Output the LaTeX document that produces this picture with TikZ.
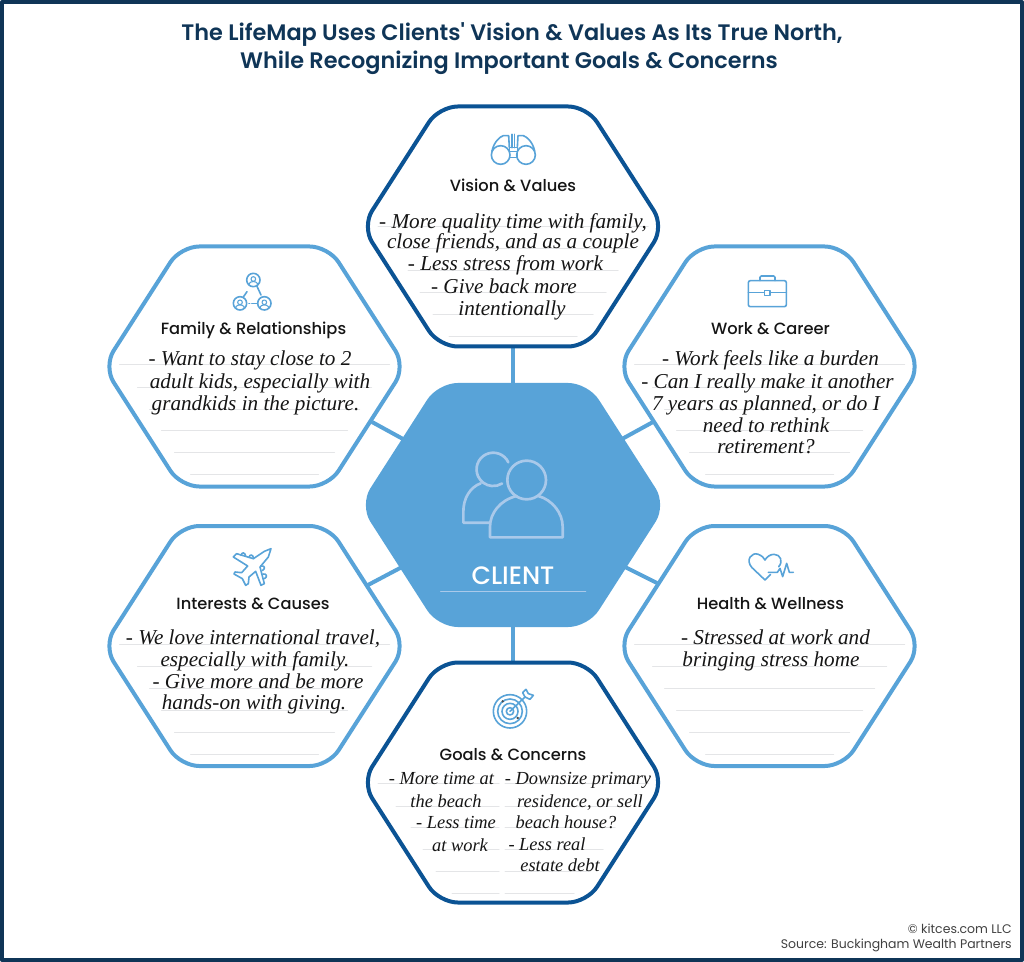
\documentclass[tikz,border=0pt]{standalone}
\usepackage{fontspec}
\setmainfont{Poppins}
\newfontfamily\headfont{Poppins SemiBold}
\newfontfamily\midfont{Poppins Medium}
\newfontfamily\handfont{Liberation Serif}[ItalicFont=* Italic]
\definecolor{framenavy}{HTML}{0F3557}
\definecolor{skyblue}{HTML}{58A3D8}
\definecolor{deepblue}{HTML}{0B5394}
\definecolor{rulegray}{HTML}{E4E5E7}
\definecolor{paleblue}{HTML}{A9C9EA}
\definecolor{inkblack}{HTML}{151515}
\begin{document}
\begin{tikzpicture}[x=0.75pt, y=-0.75pt, line cap=round, line join=round,
    hexa/.pic={\draw[pic actions, rounded corners=14pt, line width=3pt]
      (-151,0) -- (-74,-120) -- (74,-120) -- (151,0) -- (74,120) -- (-74,120) -- cycle;},
    rules/.pic={\foreach \dy/\hw in {0.5/135,22.5/117,44.5/105,66/93,88/80,110/64}
      \draw[rule] (-\hw,\dy) -- (\hw,\dy);},
    rule/.style={rulegray, line width=0.75pt},
    conn/.style={skyblue, line width=3pt, line cap=butt},
    ico/.style={skyblue, line width=1.2pt},
    peep/.style={paleblue, line width=2pt},
    hand/.style={inner sep=0pt, anchor=base, yshift=-1pt, text=inkblack, font=\handfont\itshape\fontsize{15.9}{18}\selectfont},
    handsm/.style={hand, font=\handfont\itshape\fontsize{13.8}{16}\selectfont},
    head/.style={inner sep=0pt, anchor=base, yshift=-0.75pt, text=inkblack, font=\midfont\fontsize{12.2}{15}\selectfont},
    ttl/.style={inner sep=0pt, anchor=base, text=framenavy, font=\headfont\fontsize{16.8}{20}\selectfont},
    foot/.style={inner sep=0pt, anchor=base east, text=black!75, font=\fontsize{9.35}{11}\selectfont}]
  \useasboundingbox (0,0) rectangle (1024,962);
  \draw[framenavy, line width=3pt, line cap=butt] (2,2) rectangle (1022,960);
  \node[ttl] (title1) at (512,41) {The LifeMap Uses Clients' Vision \& Values As Its True North,};
  \node[ttl] (title2) at (509,69) {While Recognizing Important Goals \& Concerns};
  % centres of the hexagons
  \coordinate (client) at (513,505);
  \coordinate (vision) at (513,226.5);
  \coordinate (goals) at (513,782.5);
  \coordinate (family) at (254.5,366.5);
  \coordinate (work) at (769.5,366.5);
  \coordinate (interests) at (254.5,646);
  \coordinate (health) at (769.5,646);
  % spokes
  \coordinate (famEnd) at (372,422);
  \coordinate (famIn) at (403,439);
  \coordinate (workEnd) at (653,422);
  \coordinate (workIn) at (622,439);
  \coordinate (intEnd) at (368,585);
  \coordinate (intIn) at (402,567);
  \coordinate (hlthEnd) at (657,583);
  \coordinate (hlthIn) at (625,567);
  \draw[conn] (client) -- (vision);
  \draw[conn] (client) -- (goals);
  \draw[conn] (famEnd) -- (famIn);
  \draw[conn] (workEnd) -- (workIn);
  \draw[conn] (intEnd) -- (intIn);
  \draw[conn] (hlthEnd) -- (hlthIn);
  \pic[draw=deepblue, fill=white] at (vision) {hexa};
  \pic[draw=deepblue, fill=white] at (goals) {hexa};
  \pic[draw=skyblue, fill=white] at (family) {hexa};
  \pic[draw=skyblue, fill=white] at (work) {hexa};
  \pic[draw=skyblue, fill=white] at (interests) {hexa};
  \pic[draw=skyblue, fill=white] at (health) {hexa};
  \pic[draw=skyblue, fill=skyblue] at (client) {hexa};
  \pic at (vision) {rules};
  \pic at ([yshift=1.5pt]family) {rules};
  \pic at ([yshift=1.5pt]work) {rules};
  \pic at ([yshift=1.5pt]interests) {rules};
  \pic at ([yshift=1.5pt]health) {rules};
  % goals has two columns of rules
  \foreach \dy/\hw in {0.5/135,23.5/117,44.5/102,66.5/90,88.5/77,110.5/61} {
    \draw[rule] ([xshift=-\hw*0.75pt,yshift=-\dy*0.75pt]goals) -- ([xshift=-10.5pt,yshift=-\dy*0.75pt]goals);
    \draw[rule] ([xshift=-6pt,yshift=-\dy*0.75pt]goals) -- ([xshift=\hw*0.75pt,yshift=-\dy*0.75pt]goals);
  }
  % client
  \begin{scope}[shift={(350,370)}, x=0.25pt, y=-0.25pt]
    \draw[peep] (475,277) arc (-25:-302:50);
    \draw[peep] (392,340) .. controls (360,352) and (340,385) .. (340,425) -- (340,458) -- (420,458);
    \draw[peep] (530,330) circle (58);
    \draw[peep] (500,378) .. controls (450,390) and (420,430) .. (420,470) -- (420,502) -- (638,502) -- (638,470) .. controls (638,430) and (608,390) .. (565,378);
    \draw[paleblue, line width=0.9pt] (272,665) -- (707,665);
  \end{scope}
  \node[inner sep=0pt, anchor=base, text=white, font=\midfont\fontsize{18.9}{22}\selectfont] (clientlab) at (513,584.5) {CLIENT};
  % binoculars
  \begin{scope}[shift={(480,125)}, x=0.25pt, y=-0.25pt]
    \draw[ico] (62,90) circle (28);
    \draw[ico] (138,90) circle (28);
    \draw[ico] (36,78) .. controls (42,50) and (60,35) .. (70,32) -- (86,32) -- (88,68);
    \draw[ico] (164,78) .. controls (158,50) and (140,35) .. (130,32) -- (114,32) -- (112,68);
    \draw[ico] (88,68) -- (88,98) -- (112,98) -- (112,68) -- cycle;
    \draw[ico] (88,80) -- (112,80);
    \draw[ico] (96,28) -- (96,68);
    \draw[ico] (104,28) -- (104,68);
  \end{scope}
  % people in a triangle
  \begin{scope}[shift={(225,265)}, x=0.25pt, y=-0.25pt]
    \foreach \cx/\cy in {85/45,45/115,118/115} {
      \draw[ico] (\cx,\cy) circle (20);
      \draw[ico, line width=0.8pt] (\cx,\cy-3) circle (7);
      \draw[ico, line width=0.8pt] (\cx-12,\cy+13) -- (\cx-12,\cy+10) .. controls (\cx-8,\cy+3) and (\cx+8,\cy+3) .. (\cx+12,\cy+10) -- (\cx+12,\cy+13);
    }
    \draw[ico] (66,80) -- (55,96);
    \draw[ico] (96,64) -- (108,90);
    \draw[ico] (72,115) -- (74,115);
    \draw[ico] (80,115) -- (96,115);
  \end{scope}
  % briefcase
  \begin{scope}[shift={(615,240)}, x=0.25pt, y=-0.25pt]
    \draw[ico, rounded corners=1.5pt] (400,122) rectangle (514,200);
    \draw[ico, rounded corners=1pt] (435,122) -- (435,108) -- (480,108) -- (480,122);
    \draw[ico] (400,158) -- (448,158);
    \draw[ico] (465,158) -- (514,158);
    \draw[ico] (448,152) rectangle (465,167);
  \end{scope}
  % plane
  \begin{scope}[shift={(225,542)}, x=0.25pt, y=-0.25pt]
    \draw[ico] (138,20) -- (118,28) -- (85,50) -- (35,35) -- (25,45) -- (68,72) -- (50,92) -- (30,90) -- (27,96) -- (52,110) -- (62,130) -- (70,125) -- (72,105) -- (92,88) -- (108,130) -- (118,125) -- (105,75) -- (130,45) -- cycle;
    \draw[ico] (48,40) .. controls (50,30) and (60,30) .. (62,42);
    \draw[ico] (72,46) .. controls (74,36) and (84,36) .. (86,50);
    \draw[ico] (108,72) .. controls (120,70) and (122,80) .. (112,86);
    \draw[ico] (114,96) .. controls (126,94) and (128,106) .. (118,110);
  \end{scope}
  % heart with pulse
  \begin{scope}[shift={(740,545)}, x=0.25pt, y=-0.25pt]
    \draw[ico] (92,88) -- (75,105) -- (36,68) .. controls (15,45) and (35,20) .. (55,28) .. controls (65,32) and (72,38) .. (75,45) .. controls (80,36) and (90,28) .. (102,28) .. controls (122,28) and (130,50) .. (116,65);
    \draw[ico] (85,82) -- (112,82) -- (120,70) -- (128,95) -- (140,55) -- (148,82) -- (160,82);
  \end{scope}
  % target
  \begin{scope}[shift={(480,682)}, x=0.25pt, y=-0.25pt]
    \draw[ico] (90,88) circle (50);
    \draw[ico] (90,88) circle (37);
    \draw[ico] (90,88) circle (24);
    \draw[ico] (90,88) circle (11);
    \draw[ico] (90,88) -- (135,45);
    \draw[ico] (135,45) -- (128,32) -- (138,22) -- (145,35) -- (160,40) -- (150,52) -- (135,45);
    \fill[black!70] (68,58) circle (4);
    \fill[black!70] (113,108) circle (4);
  \end{scope}
  % headings
  \node[head] (visionlab) at (513,191) {Vision \& Values};
  \node[head] (familylab) at (253.5,334) {Family \& Relationships};
  \node[head] (worklab) at (770.5,334) {Work \& Career};
  \node[head] (intlab) at (253,608) {Interests \& Causes};
  \node[head] (hlthlab) at (770.5,608) {Health \& Wellness};
  \node[head] (goalslab) at (513,759) {Goals \& Concerns};
  % vision
  \node[hand] (v1) at (513,227) {- More quality time with family,};
  \node[hand] (v2) at (513,247) {close friends, and as a couple};
  \node[hand] (v3) at (505.5,269) {- Less stress from work};
  \node[hand] (v4) at (504,292) {- Give back more};
  \node[hand] (v5) at (512,314) {intentionally};
  % family
  \node[hand] (f1) at (250,364) {- Want to stay close to 2};
  \node[hand] (f2) at (260,387) {adult kids, especially with};
  \node[hand] (f3) at (255.5,409) {grandkids in the picture.};
  % work
  \node[hand] (w1) at (770.5,364) {- Work feels like a burden};
  \node[hand] (w2) at (767.5,387) {- Can I really make it another};
  \node[hand] (w3) at (766,409) {7 years as planned, or do I};
  \node[hand] (w4) at (766,431) {need to rethink};
  \node[hand] (w5) at (766,452) {retirement?};
  % interests
  \node[hand] (i1) at (253,643) {- We love international travel,};
  \node[hand] (i2) at (255,665) {especially with family.};
  \node[hand] (i3) at (258,687) {- Give more and be more};
  \node[hand] (i4) at (254,708) {hands-on with giving.};
  % health
  \node[hand] (h1) at (775.5,643) {- Stressed at work and};
  \node[hand] (h2) at (771,665) {bringing stress home};
  % goals
  \node[handsm] (g1) at (441.5,783) {- More time at};
  \node[handsm] (g2) at (446,806) {the beach};
  \node[handsm] (g3) at (456,827) {- Less time};
  \node[handsm] (g4) at (460,850) {at work};
  \node[handsm] (g5) at (578,783) {- Downsize primary};
  \node[handsm] (g6) at (580,806) {residence, or sell};
  \node[handsm] (g7) at (566,827) {beach house?};
  \node[handsm] (g8) at (547,849) {- Less real};
  \node[handsm] (g9) at (560,870) {estate debt};
  % source
  \node[foot] (foot1) at (1012,933) {© kitces.com LLC};
  \node[foot] (foot2) at (1012,948) {Source: Buckingham Wealth Partners};
\end{tikzpicture}
\end{document}
